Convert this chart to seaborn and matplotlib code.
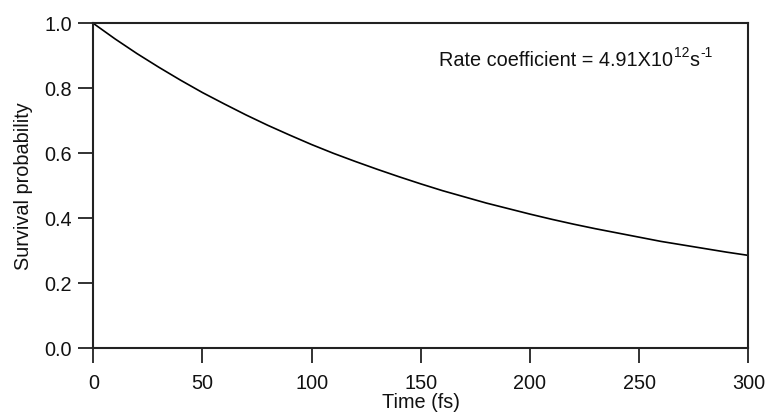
import numpy as np
import pandas as pd
import matplotlib
matplotlib.use("Agg")
import matplotlib.pyplot as plt
import seaborn as sns

# Survival probability of the initial state versus time
time_fs = [0, 10, 20, 30, 40, 50, 60, 70, 80, 90, 100,
           110, 120, 130, 140, 150, 160, 170, 180, 190, 200,
           210, 220, 230, 240, 250, 260, 270, 280, 290, 300]
survival = [1.000, 0.952, 0.907, 0.865, 0.825, 0.787, 0.752, 0.718, 0.686, 0.656, 0.627,
            0.600, 0.575, 0.551, 0.528, 0.506, 0.485, 0.466, 0.447, 0.430, 0.413,
            0.397, 0.382, 0.368, 0.355, 0.342, 0.329, 0.318, 0.307, 0.296, 0.286]

x_ticks = [0, 50, 100, 150, 200, 250, 300]
y_ticks = [0.0, 0.2, 0.4, 0.6, 0.8, 1.0]
y_tick_labels = ["0.0", "0.2", "0.4", "0.6", "0.8", "1.0"]

# Rate annotation pieces: (text, is_superscript)
rate_parts = [("Rate coefficient = 4.91X10", False), ("12", True),
              ("s", False), ("-1", True)]

sns.set_theme(style="ticks")
plt.rcParams["font.family"] = ["Liberation Sans", "DejaVu Sans"]

FS = 14.3
SUP_FS = 10.0
SUP_RISE = 7.0   # points
INK = "#111111"

df = pd.DataFrame({"Time (fs)": time_fs, "Survival probability": survival})

fig = plt.figure(figsize=(7.71, 4.17), dpi=100)
ax = fig.add_axes([0.121, 0.1647, 0.8496, 0.7793])

sns.lineplot(data=df, x="Time (fs)", y="Survival probability", ax=ax,
             color="black", linewidth=1.2)

ax.set_xlim(0, 300)
ax.set_ylim(0, 1.0)
ax.set_xticks(x_ticks)
ax.set_yticks(y_ticks)
ax.set_yticklabels(y_tick_labels)

for side in ["left", "right", "top", "bottom"]:
    ax.spines[side].set_visible(True)
    ax.spines[side].set_color("#222222")
    ax.spines[side].set_linewidth(1.5)

ax.tick_params(axis="both", which="major", direction="out", length=10.5,
               width=1.3, color="#222222", labelsize=FS, labelcolor=INK)
ax.tick_params(axis="x", pad=8)
ax.tick_params(axis="y", pad=5)
ax.tick_params(top=False, right=False)

ax.set_xlabel("Time (fs)", fontsize=FS, color=INK, labelpad=0)
ax.set_ylabel("Survival probability", fontsize=FS, color=INK, labelpad=8)

# Rate label assembled piece by piece so the superscripts sit high
prev = ax.text(158.4, 0.8695, rate_parts[0][0], ha="left", va="baseline",
               fontsize=FS, color=INK)
prev_sup = False
for text, sup in rate_parts[1:]:
    if sup and not prev_sup:
        dx, dy = 0.4, SUP_RISE
    elif prev_sup and not sup:
        dx, dy = 0.4, -SUP_RISE
    else:
        dx, dy = 0.0, 0.0
    prev = ax.annotate(text, xy=(1, 0), xycoords=prev,
                       xytext=(dx, dy), textcoords="offset points",
                       ha="left", va="bottom",
                       fontsize=SUP_FS if sup else FS, color=INK)
    prev_sup = sup

fig.savefig("out.png", dpi=100, facecolor="white")
